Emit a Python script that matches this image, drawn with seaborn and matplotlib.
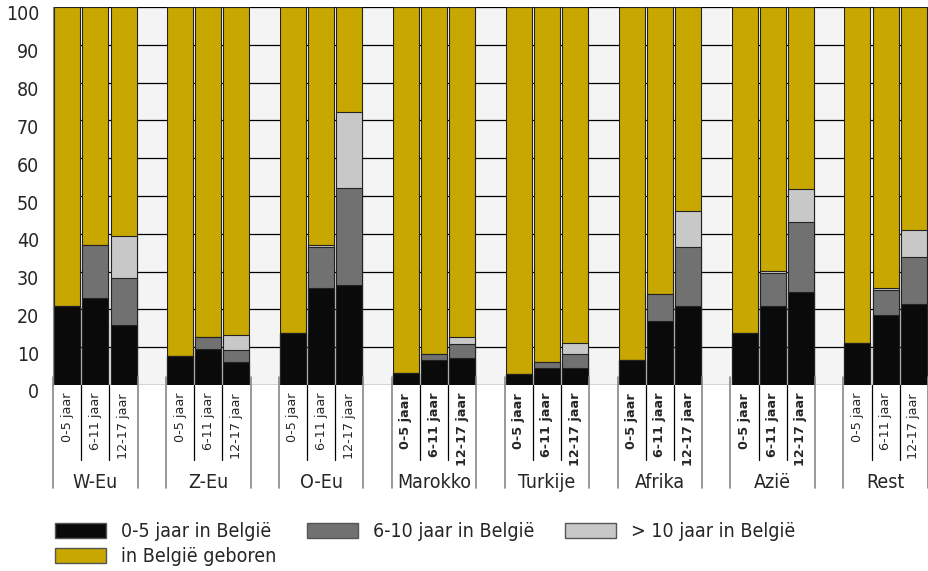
import numpy as np
import pandas as pd
import matplotlib
matplotlib.use("Agg")
import matplotlib.pyplot as plt
import matplotlib.transforms as mtransforms
from matplotlib.patches import Patch
import seaborn as sns

groepen = ["W-Eu", "Z-Eu", "O-Eu", "Marokko", "Turkije", "Afrika", "Azië", "Rest"]
leeftijden = ["0-5 jaar", "6-11 jaar", "12-17 jaar"]
vet = [False, False, False, True, True, True, True, False]

kort = [20.8, 22.9, 15.9, 7.6, 9.4, 6.1, 13.8, 25.7, 26.4, 3.3, 6.6, 7.2,
        2.8, 4.5, 4.5, 6.7, 17.0, 20.8, 13.8, 20.8, 24.6, 11.0, 18.6, 21.4]
midden = [0, 14.2, 12.5, 0, 3.2, 3.1, 0, 10.9, 25.6, 0, 1.5, 3.6,
          0, 1.6, 3.7, 0, 7.1, 15.8, 0, 8.7, 18.5, 0, 6.5, 12.5]
lang = [0, 0, 10.9, 0, 0, 3.9, 0, 0.5, 20.1, 0, 0.2, 1.8,
        0, 0, 2.8, 0, 0, 9.4, 0, 0.6, 8.8, 0, 0.6, 7.1]

kleuren = {"kort": "#0a0a0a", "midden": "#717171", "lang": "#c8c8c8", "geboren": "#c8a800"}

# posities: 3 staven per groep + 1 lege kolom
pos = [4 * g + i for g in range(len(groepen)) for i in range(3)]
df = pd.DataFrame({"pos": pos, "kort": kort, "midden": midden, "lang": lang})
df["top_kort"] = df["kort"]
df["top_midden"] = df["kort"] + df["midden"]
df["top_lang"] = df["top_midden"] + df["lang"]
df["top_geboren"] = 100.0

sns.set_style("white")
plt.rcParams["font.family"] = ["DejaVu Sans"]
plt.rcParams["font.stretch"] = "condensed"

fig = plt.figure(figsize=(9.29, 5.71), dpi=100)
ax = fig.add_axes([53 / 929, 186 / 571, 875 / 929, 378 / 571])

# lege kolommen lichtgrijs
for g in range(len(groepen) - 1):
    ax.axvspan(4 * g + 2.5, 4 * g + 3.5, color="#f4f4f4", zorder=0, lw=0)

for kol in ["geboren", "lang", "midden", "kort"]:
    sns.barplot(data=df, x="pos", y="top_" + kol, native_scale=True, width=0.92,
                color=kleuren[kol], edgecolor="#222222", linewidth=0.8,
                saturation=1, errorbar=None, ax=ax)

ax.set_xlim(-0.5, 4 * len(groepen) - 1.5)
ax.set_ylim(0, 100)
ax.set_yticks(range(0, 101, 10))
ax.tick_params(axis="y", labelsize=14, length=0, pad=10)
ax.set_xticks([])
ax.set_xlabel("")
ax.set_ylabel("")
ax.yaxis.grid(True, color="black", lw=0.9)
ax.set_axisbelow(True)
for s in ["top", "right", "bottom"]:
    ax.spines[s].set_visible(False)
ax.spines["left"].set_color("#888888")
ax.spines["left"].set_linewidth(0.8)

# y-labels staan iets onder de rasterlijn
verschuif = mtransforms.ScaledTranslation(0, -6 / 100, fig.dpi_scale_trans)
for lbl in ax.get_yticklabels():
    lbl.set_transform(lbl.get_transform() + verschuif)

# tabel onder de grafiek
trans = mtransforms.blended_transform_factory(ax.transData, ax.transAxes)
for g, naam in enumerate(groepen):
    links = 4 * g - 0.5
    rechts = 4 * g + 2.5
    for x in [links, rechts]:
        ax.plot([x, x], [0.02, -0.272], color="#888888", lw=1.2, transform=trans,
                clip_on=False)
    for x in [4 * g + 0.5, 4 * g + 1.5]:
        ax.plot([x, x], [0, -0.198], color="black", lw=0.9, transform=trans,
                clip_on=False)
    for i, lab in enumerate(leeftijden):
        ax.text(4 * g + i, -0.021, lab, rotation=90, ha="center", va="top",
                fontsize=9.2, fontstretch="normal",
                fontweight="bold" if vet[g] else "normal",
                transform=trans)
    ax.text(4 * g + 1, -0.259, naam, ha="center", va="center", fontsize=14,
            transform=trans)

handles = [Patch(facecolor=kleuren["kort"], edgecolor="#555555", label="0-5 jaar in België"),
           Patch(facecolor=kleuren["geboren"], edgecolor="#555555", label="in België geboren"),
           Patch(facecolor=kleuren["midden"], edgecolor="#555555", label="6-10 jaar in België"),
           Patch(facecolor=kleuren["lang"], edgecolor="#555555", label="> 10 jaar in België")]
fig.legend(handles=handles, loc="upper left", bbox_to_anchor=(55 / 929, 1 - 522 / 571),
           ncol=3, frameon=False, fontsize=14, handlelength=2.6, handleheight=0.82,
           handletextpad=0.77, columnspacing=1.6, labelspacing=0.3, borderpad=0,
           borderaxespad=0)

fig.savefig("out.png", dpi=100)
